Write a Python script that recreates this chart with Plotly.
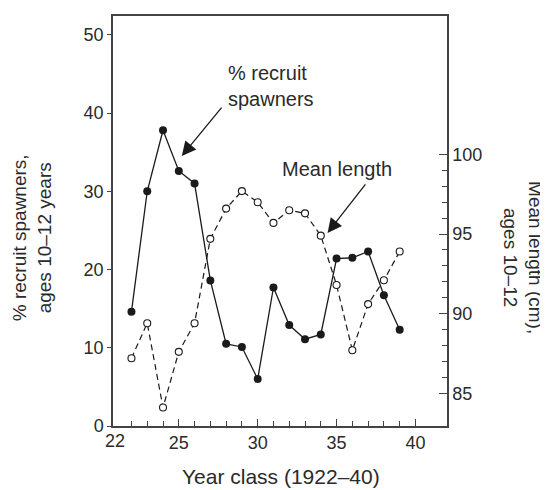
"""Recruit spawners vs mean length, year classes 1922-40 (two y axes)."""

import plotly.graph_objects as go

# year class (19xx)
years = list(range(22, 40))

# % recruit spawners, ages 10-12 years (left axis)
recruit_pct = [14.6, 30.0, 37.8, 32.6, 31.0, 18.6, 10.5, 10.1, 6.0,
               17.7, 12.9, 11.1, 11.7, 21.4, 21.5, 22.3, 16.7, 12.3]

# mean length (cm), ages 10-12 (right axis)
mean_length = [87.2, 89.4, 84.1, 87.6, 89.4, 94.7, 96.6, 97.7, 97.0,
               95.7, 96.5, 96.3, 94.9, 91.8, 87.7, 90.6, 92.1, 93.9]

# tick labels
x_major = [25, 30, 35, 40]
x_minor = [v for v in range(22, 41) if v not in x_major]
y_left_ticks = [0, 10, 20, 30, 40, 50]
y_right_major = [85, 90, 95, 100]
y_right_minor = [v for v in range(85, 101) if v not in y_right_major]

FONT = "Liberation Sans, Arial, Helvetica, sans-serif"
INK = "#1a1a1a"
TEXT = "#2a2a2a"
AXIS = "#444444"

fig = go.Figure()

fig.add_trace(go.Scatter(
    x=years, y=recruit_pct, mode="lines+markers", name="% recruit spawners",
    line=dict(color=INK, width=1.3),
    marker=dict(symbol="circle", size=8, color=INK),
))
fig.add_trace(go.Scatter(
    x=years, y=mean_length, mode="lines+markers", name="Mean length",
    yaxis="y2",
    line=dict(color=INK, width=1.2, dash="6px,4px"),
    marker=dict(symbol="circle", size=7, color="white",
                line=dict(color=INK, width=1.1)),
))

tick_font = dict(family=FONT, size=18, color=TEXT)
title_font = dict(family=FONT, size=19, color=TEXT)
label_font = dict(family=FONT, size=20, color=TEXT)

# page body has an 8px margin, so the figure is 8px smaller than the window
fig.update_layout(
    width=540, height=482,
    margin=dict(l=105, r=101, t=6, b=64),
    paper_bgcolor="white", plot_bgcolor="white",
    showlegend=False,
    font=dict(family=FONT, color=TEXT),
    xaxis=dict(
        range=[20.83, 42.0], showgrid=False, zeroline=False,
        showline=True, linecolor=AXIS, linewidth=1.5, mirror=True,
        tickmode="array", tickvals=x_major, ticks="inside", ticklen=7,
        tickcolor=AXIS, tickwidth=1.2, tickfont=tick_font,
        minor=dict(tickmode="array", tickvals=x_minor, ticks="inside",
                   ticklen=5, tickcolor=AXIS, tickwidth=1.2),
    ),
    yaxis=dict(
        range=[0, 52.4], showgrid=False, zeroline=False,
        showline=True, linecolor=AXIS, linewidth=1.5,
        tickmode="array", tickvals=y_left_ticks, ticks="outside", ticklen=4,
        tickcolor=AXIS, tickwidth=1.2, tickfont=tick_font,
    ),
    yaxis2=dict(
        overlaying="y", side="right",
        range=[82.94, 108.7], showgrid=False, zeroline=False,
        showline=True, linecolor=AXIS, linewidth=1.5,
        tickmode="array", tickvals=y_right_major, ticks="inside", ticklen=8,
        tickcolor=AXIS, tickwidth=1.2, tickfont=tick_font,
        minor=dict(tickmode="array", tickvals=y_right_minor, ticks="inside",
                   ticklen=5, tickcolor=AXIS, tickwidth=1.2),
    ),
)

# "22" sits at the axis corner, left of its tick
fig.add_annotation(x=20.93, y=0, xref="x", yref="paper", yanchor="top",
                   yshift=-3, text="22", showarrow=False, font=tick_font)

# axis titles
fig.add_annotation(x=-0.24, y=0.46, xref="paper", yref="paper",
                   xanchor="center", yanchor="middle",
                   text="% recruit spawners,<br>ages 10–12 years",
                   textangle=-90, showarrow=False, font=title_font)
fig.add_annotation(x=1.227, y=0.41, xref="paper", yref="paper",
                   xanchor="center", yanchor="middle",
                   text="Mean length (cm),<br>ages 10–12",
                   textangle=90, showarrow=False, font=title_font)
fig.add_annotation(x=0.503, y=-0.124, xref="paper", yref="paper",
                   xanchor="center", yanchor="middle",
                   text="Year class (1922–40)", showarrow=False,
                   font=dict(family=FONT, size=21, color=TEXT))

# labels with arrows
fig.add_annotation(x=27.97, y=43.4, xref="x", yref="y", xanchor="left",
                   align="left", text="% recruit<br>spawners",
                   showarrow=False, font=label_font)
fig.add_annotation(x=25.19, y=34.5, xref="x", yref="y", ax=41, ay=-50,
                   text="", showarrow=True, arrowhead=2, arrowsize=2.2,
                   arrowwidth=1.3, arrowcolor=INK)
fig.add_annotation(x=35.0, y=32.8, xref="x", yref="y",
                   text="Mean length", showarrow=False, font=label_font)
fig.add_annotation(x=34.43, y=24.68, xref="x", yref="y", ax=39, ay=-50,
                   text="", showarrow=True, arrowhead=2, arrowsize=2.2,
                   arrowwidth=1.3, arrowcolor=INK)

fig.write_html("out.html")
